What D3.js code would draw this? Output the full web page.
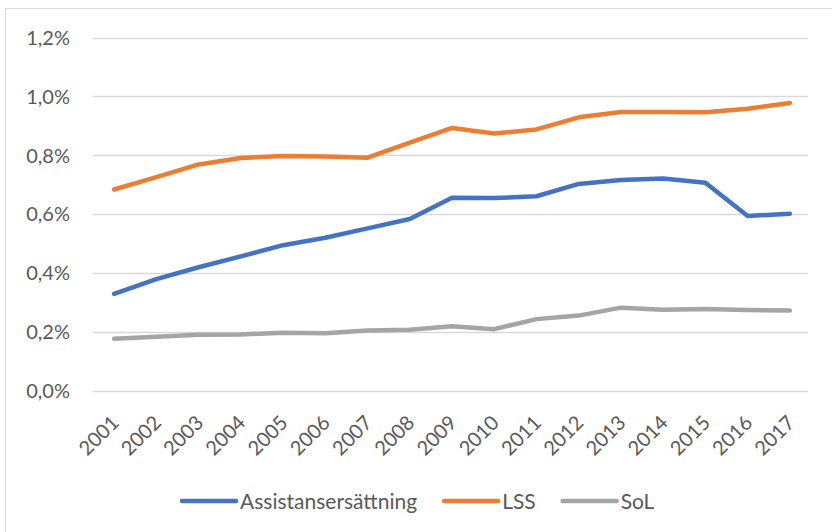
<!DOCTYPE html>
<head>
    <title>Kostnader i procent av BNP</title>
    <style>
        body { margin: 0; background: white; }
        svg { display: block; }
        text { font-family: Lato, "Open Sans", sans-serif; fill: #595959; }
    </style>
    <script src="https://d3js.org/d3.v7.min.js"></script>
</head>
<body>
    <svg width="832" height="532"></svg>
    <script>
        // data (share of GDP, %)
        var years = ["2001","2002","2003","2004","2005","2006","2007","2008","2009","2010","2011","2012","2013","2014","2015","2016","2017"];
        var assistans = [0.330,0.380,0.420,0.457,0.495,0.520,0.552,0.584,0.656,0.655,0.661,0.703,0.716,0.721,0.707,0.594,0.602];
        var lss = [0.684,0.726,0.769,0.791,0.798,0.796,0.792,0.843,0.893,0.874,0.888,0.929,0.947,0.947,0.946,0.958,0.978];
        var sol = [0.177,0.184,0.191,0.192,0.198,0.196,0.205,0.208,0.220,0.210,0.244,0.256,0.283,0.276,0.278,0.275,0.273];
        var yTicks = [0, 0.2, 0.4, 0.6, 0.8, 1.0, 1.2];

        var series = [
            {name: "Assistansersättning", values: assistans, color: "#4472C4"},
            {name: "LSS", values: lss, color: "#ED7D31"},
            {name: "SoL", values: sol, color: "#A5A5A5"}
        ];

        var svg = d3.select("svg");

        // outer chart frame (right and bottom edges fall outside the picture)
        svg.append("rect")
            .attr("x", 5.5).attr("y", 8.5)
            .attr("width", 840).attr("height", 540)
            .attr("fill", "none")
            .attr("stroke", "#d9d9d9");

        var x = d3.scaleBand().domain(years).range([93, 811]);
        var y = d3.scaleLinear().domain([0, 1.2]).range([391, 37.5]);

        // gridlines
        svg.append("g").selectAll("line")
            .data(yTicks)
            .join("line")
            .attr("x1", 93).attr("x2", 808)
            .attr("y1", d => Math.round(y(d)) + 0.5)
            .attr("y2", d => Math.round(y(d)) + 0.5)
            .attr("stroke", "#d9d9d9")
            .attr("stroke-width", 1.5);

        // y labels
        svg.append("g").selectAll("text")
            .data(yTicks)
            .join("text")
            .attr("x", 70)
            .attr("y", d => y(d))
            .attr("dy", "0.36em")
            .attr("text-anchor", "end")
            .style("font-size", "20px")
            .text(d => d3.format(".1f")(d).replace(".", ",") + "%");

        // x labels, rotated
        svg.append("g").selectAll("text")
            .data(years)
            .join("text")
            .attr("transform", d => "translate(" + (x(d) + x.bandwidth() / 2 + 6) + ",424) rotate(-45)")
            .attr("text-anchor", "end")
            .style("font-size", "20px")
            .text(d => d);

        var line = d3.line()
            .x((d, i) => x(years[i]) + x.bandwidth() / 2)
            .y(d => y(d));

        svg.append("g").selectAll("path")
            .data(series)
            .join("path")
            .attr("fill", "none")
            .attr("stroke", d => d.color)
            .attr("stroke-width", 4.5)
            .attr("stroke-linecap", "round")
            .attr("stroke-linejoin", "round")
            .attr("d", d => line(d.values));

        // legend
        var legend = svg.append("g");
        var lx = 182;
        series.forEach(function (s) {
            legend.append("line")
                .attr("x1", lx).attr("x2", lx + 54)
                .attr("y1", 501).attr("y2", 501)
                .attr("stroke", s.color)
                .attr("stroke-width", 4.5)
                .attr("stroke-linecap", "round");
            var t = legend.append("text")
                .attr("x", lx + 58)
                .attr("y", 501)
                .attr("dy", "0.36em")
                .style("font-size", "21px")
                .text(s.name);
            lx += 58 + t.node().getComputedTextLength() + 27;
        });
    </script>
</body>
</html>
